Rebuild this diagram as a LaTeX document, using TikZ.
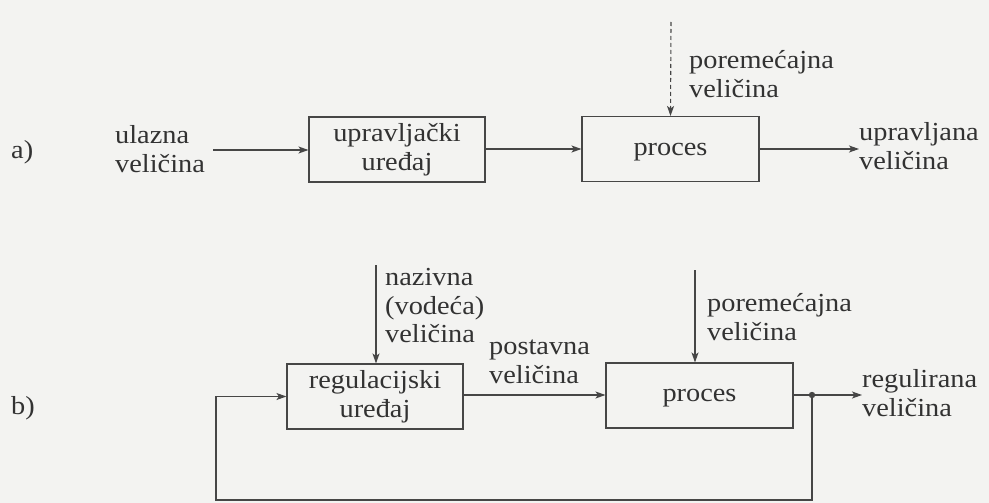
\documentclass[tikz,border=0pt]{standalone}
\usepackage{fontspec}
\setmainfont{Liberation Serif}[FakeStretch=1.09]
\usetikzlibrary{arrows.meta,positioning}
\definecolor{papir}{RGB}{243,243,241}
\definecolor{tinta}{RGB}{50,50,50}
\definecolor{crta}{RGB}{70,70,70}
\tikzset{
  blok/.style={draw=crta, line width=1.1pt, minimum width=176pt, minimum height=65pt, align=center, inner sep=0pt},
  tekst/.style={align=left, inner sep=0pt, anchor=west},
  veza/.style={draw=crta, line width=1.1pt, -{Stealth[length=10pt,width=7pt,inset=2.5pt]}}
}
\begin{document}
\begin{tikzpicture}[x=1pt, y=-1pt, font=\fontsize{26}{28.5}\selectfont, text=tinta]
            \fill[papir] (0,0) rectangle (989,503);
            \useasboundingbox (0,0) rectangle (989,503);
            % a) upravljanje
            \node[tekst] (lbla) at (11,152) {a)};
            \node[tekst] (ulaz) at (115,149) {ulazna\\veličina};
            \node[blok] (uprav) at (397,149.5) {upravljački\\uređaj};
            \node[blok, minimum width=177pt, text depth=0pt] (procA) at (670.5,149) {proces};
            \node[tekst] (izlazA) at (859,146) {upravljana\\veličina};
            \node[tekst] (porA) at (689,74) {poremećajna\\veličina};
            \coordinate (pA) at (671,22);
            \coordinate (ulazK) at (213,150);
            \draw[veza] (ulazK) -- (uprav.west |- ulazK);
            \draw[veza] (uprav.east |- procA.west) -- (procA.west);
            \draw[veza] (procA.east) -- (izlazA.west |- procA.east);
            \draw[veza, dash pattern=on 4pt off 3pt] (pA) -- (procA.north);
            % b) regulacija
            \node[tekst] (lblb) at (11,408) {b)};
            \node[blok] (reg) at (375,396.5) {regulacijski\\uređaj};
            \node[blok, minimum width=187pt, text depth=0pt] (procB) at (699.5,395.5) {proces};
            \node[tekst] (naziv) at (385,306) {nazivna\\(vodeća)\\veličina};
            \node[tekst] (postav) at (489,362) {postavna\\veličina};
            \node[tekst] (porB) at (707,317) {poremećajna\\veličina};
            \node[tekst] (izlazB) at (862,393) {regulirana\\veličina};
            \coordinate (nB) at (376,265);
            \coordinate (pB) at (695,270);
            \coordinate (cvor) at (812,395);
            \coordinate (dolje) at (812,500);
            \coordinate (lijevo) at (216,500);
            \draw[veza] (nB) -- (nB |- reg.north);
            \draw[veza] (pB) -- (pB |- procB.north);
            \draw[veza] (reg.east |- cvor) -- (procB.west |- cvor);
            \draw[veza] (procB.east |- cvor) -- (cvor) -- (izlazB.west |- cvor);
            \fill[crta] (cvor) circle (3.2);
            \draw[veza] (cvor) -- (dolje) -- (lijevo) -- (lijevo |- reg.west) -- (reg.west);
        \end{tikzpicture}
\end{document}
